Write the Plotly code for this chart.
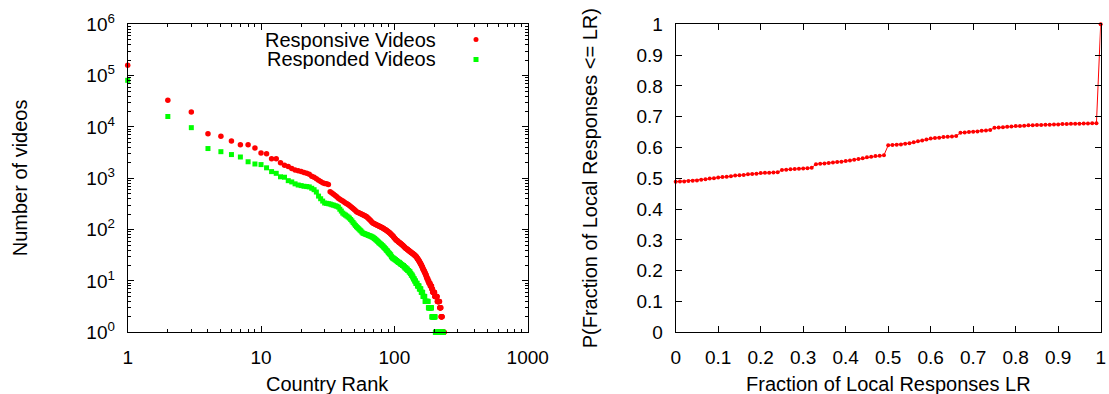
import plotly.graph_objects as go

# ---- Left panel: videos per country, ranked ----
responsive_videos = [
    160000, 33000, 19500, 7400, 6600, 5300, 4500, 4500, 3900, 3100, 3000, 2400, 2400, 2000, 1800,
    1700, 1550, 1450, 1400, 1350, 1300, 1250, 1200, 1100, 1050, 980, 920, 870, 820, 790, 780, 760,
    550, 520, 490, 460, 435, 410, 390, 375, 360, 345, 330, 320,
    310, 296, 283, 270, 258, 247, 235, 224,
    219, 214, 209, 204, 200, 195, 191, 187, 183, 178,
    171, 164, 158, 152, 146, 140, 134,
    132, 130, 127, 125, 123, 121, 119, 117, 115, 113, 111, 109, 107,
    105, 103, 101, 99, 97, 95, 93, 91, 89, 87,
    85, 82, 80, 78, 76, 74, 71, 69, 67, 65, 63,
    62, 61, 60, 58, 57, 56, 55, 54, 53, 52, 51, 50, 49, 48, 47, 46, 45, 44, 43, 43,
    42, 41, 41, 40, 39, 39, 38, 38, 37, 36, 36, 35, 35, 34, 34, 33, 33, 32, 32, 31, 31, 30, 30,
    29, 28, 27, 27, 26, 25, 25, 24, 23, 23, 22, 21, 21, 20,
    19, 19, 18, 17, 17, 16, 16, 15, 15, 14, 14, 13, 13, 12,
    12, 11, 11, 11, 10, 10, 10, 9, 9, 9, 9, 8, 8, 8, 8, 8,
    7, 7, 7, 6, 6, 6, 6, 6, 6, 6, 5, 5, 5, 5, 5, 5, 5, 5, 5,
    4, 4, 4, 4, 4, 4, 4, 4, 4,
    3, 3, 3, 3, 3,
    2, 2, 2, 2, 2,
    1, 1, 1, 1, 1, 1, 1, 1,
]

responded_videos = [
    81000, 16000, 9700, 3800, 3300, 2900, 2600, 2100, 1900, 1850, 1600, 1350, 1250, 1070, 1050,
    900, 850, 780, 740, 720, 700, 690, 680, 640, 600, 540, 450, 400, 360, 330, 325, 320, 315, 305, 300,
    292, 285, 275, 250, 230, 210,
    200, 192, 184, 176, 168,
    158, 148, 138, 129, 121, 114,
    109, 104, 99, 95, 90, 86,
    84, 83, 81, 80, 79, 77, 76, 75, 74, 72, 71,
    69, 67, 65, 63, 61, 59, 57, 55, 54,
    52, 51, 49, 48, 46, 45, 43, 42, 40,
    39, 38, 36, 35, 34, 33, 32, 30, 29, 28, 28,
    27, 27, 26, 26, 25, 25, 24, 24, 23, 23, 23, 22, 22, 21, 21, 21, 20, 20,
    20, 19, 19, 18, 18, 18, 17, 17, 17, 16, 16, 16, 15, 15,
    15, 14, 14, 13, 13, 13, 12, 12, 11, 11, 11, 10,
    10, 10, 9, 9, 9, 9, 8, 8, 8, 8, 8, 7, 7,
    7, 7, 7, 6, 6, 6, 6, 6, 5, 5, 5, 5, 5, 5,
    4, 4, 4, 4, 4, 4, 4, 4, 4, 4,
    3, 3, 3, 3, 3, 3, 3, 3, 3, 3, 3,
    2, 2, 2, 2, 2, 2, 2, 2, 2, 2, 2, 2,
    1, 1, 1, 1, 1, 1, 1, 1, 1, 1, 1, 1, 1, 1, 1, 1, 1, 1, 1, 1, 1, 1, 1, 1, 1, 1, 1, 1, 1, 1, 1,
]

responsive_rank = list(range(1, len(responsive_videos) + 1))
responded_rank = list(range(1, len(responded_videos) + 1))

# ---- Right panel: CDF of the fraction of local responses ----
local_fraction = [
    0.00, 0.01, 0.02, 0.03, 0.04, 0.05, 0.06, 0.07, 0.08, 0.09,
    0.10, 0.11, 0.12, 0.13, 0.14, 0.15, 0.16, 0.17, 0.18, 0.19,
    0.20, 0.21, 0.22, 0.23, 0.24, 0.25, 0.26, 0.27, 0.28, 0.29,
    0.30, 0.31, 0.32, 0.33, 0.34, 0.35, 0.36, 0.37, 0.38, 0.39,
    0.40, 0.41, 0.42, 0.43, 0.44, 0.45, 0.46, 0.47, 0.48, 0.49,
    0.50, 0.51, 0.52, 0.53, 0.54, 0.55, 0.56, 0.57, 0.58, 0.59,
    0.60, 0.61, 0.62, 0.63, 0.64, 0.65, 0.66, 0.67, 0.68, 0.69,
    0.70, 0.71, 0.72, 0.73, 0.74, 0.75, 0.76, 0.77, 0.78, 0.79,
    0.80, 0.81, 0.82, 0.83, 0.84, 0.85, 0.86, 0.87, 0.88, 0.89,
    0.90, 0.91, 0.92, 0.93, 0.94, 0.95, 0.96, 0.97, 0.98, 0.99,
    1.00,
]
cdf = [
    0.489, 0.490, 0.490, 0.491, 0.492, 0.493, 0.495, 0.497, 0.499, 0.500,
    0.503, 0.504, 0.505, 0.507, 0.509, 0.510, 0.511, 0.513, 0.514, 0.515,
    0.517, 0.518, 0.518, 0.519, 0.520, 0.527, 0.528, 0.529, 0.530, 0.531,
    0.532, 0.533, 0.534, 0.546, 0.547, 0.548, 0.550, 0.551, 0.553, 0.554,
    0.556, 0.558, 0.560, 0.563, 0.565, 0.568, 0.570, 0.572, 0.573, 0.575,
    0.607, 0.608, 0.609, 0.610, 0.612, 0.614, 0.617, 0.620, 0.623, 0.626,
    0.629, 0.631, 0.632, 0.634, 0.635, 0.636, 0.637, 0.648, 0.649, 0.650,
    0.651, 0.652, 0.654, 0.655, 0.657, 0.664, 0.665, 0.666, 0.667, 0.668,
    0.670, 0.670, 0.671, 0.672, 0.672, 0.673, 0.673, 0.674, 0.674, 0.675,
    0.675, 0.676, 0.676, 0.677, 0.677, 0.677, 0.678, 0.678, 0.679, 0.679,
    1.000,
]

# ---- Tick labels ----
rank_ticks = [1, 10, 100, 1000]
rank_ticktext = ["1", "10", "100", "1000"]
count_ticks = [1, 10, 100, 1000, 10000, 100000, 1000000]
count_ticktext = ["10<sup>0</sup>", "10<sup>1</sup>", "10<sup>2</sup>", "10<sup>3</sup>",
                  "10<sup>4</sup>", "10<sup>5</sup>", "10<sup>6</sup>"]
frac_ticks = [0, 0.1, 0.2, 0.3, 0.4, 0.5, 0.6, 0.7, 0.8, 0.9, 1]
frac_ticktext = ["0", "0.1", "0.2", "0.3", "0.4", "0.5", "0.6", "0.7", "0.8", "0.9", "1"]

W, H = 1109, 394
FONT = "Liberation Sans, Arial, sans-serif"
TICK_FS = 19
TEXT_FS = 20


def px(x):
    return x / W


def py(y):
    return 1 - y / H


def log_minor(decades):
    vals = []
    for d in range(decades):
        for m in range(2, 10):
            vals.append(m * 10 ** d)
    return vals


fig = go.Figure()

fig.add_trace(go.Scatter(
    x=responsive_rank, y=responsive_videos, mode="markers", name="Responsive Videos",
    marker=dict(symbol="circle", size=5.5, color="#ff0000", line=dict(width=0)),
    xaxis="x", yaxis="y", cliponaxis=False, showlegend=False,
))
fig.add_trace(go.Scatter(
    x=responded_rank, y=responded_videos, mode="markers", name="Responded Videos",
    marker=dict(symbol="square", size=5, color="#00ff00", line=dict(width=0)),
    xaxis="x", yaxis="y", cliponaxis=False, showlegend=False,
))
fig.add_trace(go.Scatter(
    x=local_fraction, y=cdf, mode="lines+markers",
    line=dict(color="#ff0000", width=1),
    marker=dict(symbol="circle", size=4, color="#ff0000", line=dict(width=0)),
    xaxis="x2", yaxis="y2", cliponaxis=False, showlegend=False,
))

axis_common = dict(
    showline=True, linecolor="black", linewidth=1, mirror="allticks",
    ticks="inside", ticklen=6, tickwidth=1, tickcolor="black",
    showgrid=False, zeroline=False,
    tickfont=dict(family=FONT, size=TICK_FS, color="black"),
)

fig.update_layout(
    width=W, height=H,
    margin=dict(l=0, r=0, t=0, b=0, autoexpand=False),
    paper_bgcolor="white", plot_bgcolor="white",
    font=dict(family=FONT, size=TEXT_FS, color="black"),
    xaxis=dict(
        type="log", range=[0, 3], domain=[px(127.7), px(527.7)], anchor="y",
        tickmode="array", tickvals=rank_ticks, ticktext=rank_ticktext,
        ticklabelstandoff=8,
        minor=dict(ticks="inside", ticklen=3, tickcolor="black", tickmode="array",
                   tickvals=log_minor(3), showgrid=False),
        **axis_common,
    ),
    yaxis=dict(
        type="log", range=[0, 6], domain=[py(332.3), py(24.3)], anchor="x",
        tickmode="array", tickvals=count_ticks, ticktext=count_ticktext,
        ticklabelstandoff=8,
        minor=dict(ticks="inside", ticklen=3, tickcolor="black", tickmode="array",
                   tickvals=log_minor(6), showgrid=False),
        **axis_common,
    ),
    xaxis2=dict(
        range=[0, 1], domain=[px(675.7), px(1100.7)], anchor="y2",
        tickmode="array", tickvals=frac_ticks, ticktext=frac_ticktext,
        ticklabelstandoff=8,
        **axis_common,
    ),
    yaxis2=dict(
        range=[0, 1], domain=[py(332.3), py(24.3)], anchor="x2",
        tickmode="array", tickvals=frac_ticks, ticktext=frac_ticktext,
        ticklabelstandoff=8,
        **axis_common,
    ),
)

title_font = dict(family=FONT, size=TEXT_FS, color="black")
annotations = [
    dict(text="Country Rank", x=px(327.7), y=py(384), xref="paper", yref="paper",
         xanchor="center", yanchor="middle", showarrow=False, font=title_font),
    dict(text="Number of videos", x=px(20), y=py(178.3), xref="paper", yref="paper",
         xanchor="center", yanchor="middle", textangle=-90, showarrow=False, font=title_font),
    dict(text="Fraction of Local Responses LR", x=px(888.2), y=py(384), xref="paper", yref="paper",
         xanchor="center", yanchor="middle", showarrow=False, font=title_font),
    dict(text="P(Fraction of Local Responses &lt;= LR)", x=px(590), y=py(178.3), xref="paper",
         yref="paper", xanchor="center", yanchor="middle", textangle=-90, showarrow=False,
         font=title_font),
    # key entries: text right-aligned, sample marker to the right
    dict(text="Responsive Videos", x=px(438), y=py(39.5), xref="paper", yref="paper",
         xanchor="right", yanchor="middle", showarrow=False, font=title_font, height=20),
    dict(text="Responded Videos", x=px(438), y=py(59.5), xref="paper", yref="paper",
         xanchor="right", yanchor="middle", showarrow=False, font=title_font, height=20),
]
fig.update_layout(annotations=annotations)

# key sample markers
fig.add_shape(type="circle", xref="paper", yref="paper",
              x0=px(473.5), x1=px(478.5), y0=py(42), y1=py(37),
              fillcolor="#ff0000", line=dict(width=0))
fig.add_shape(type="rect", xref="paper", yref="paper",
              x0=px(473.5), x1=px(478.5), y0=py(62), y1=py(57),
              fillcolor="#00ff00", line=dict(width=0))

fig.write_html("out.html")
